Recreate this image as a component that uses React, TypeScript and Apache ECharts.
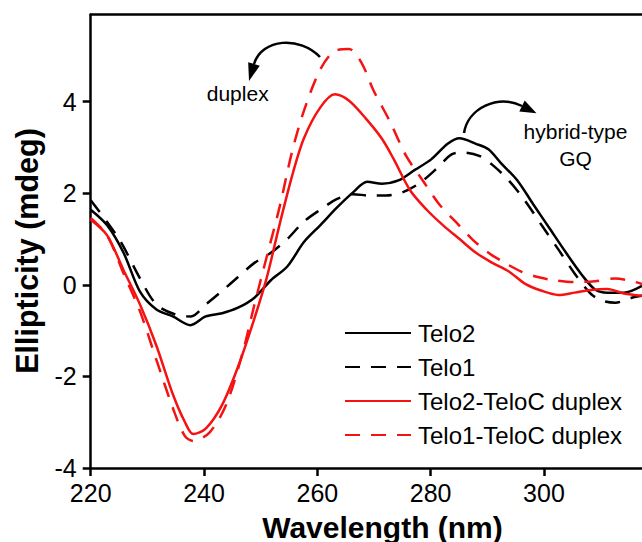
import React, { useEffect, useRef } from "react";
import * as echarts from "echarts";

const FONT = '"Liberation Sans", Arial, sans-serif';

const xTicks = [220, 240, 260, 280, 300];
const yTicks = [-4, -2, 0, 2, 4];
const seriesNames = ["Telo2", "Telo1", "Telo2-TeloC duplex", "Telo1-TeloC duplex"];

const telo2Nm = [220, 222.9, 225.8, 228.7, 231.6, 234.5, 237.6, 240.3, 243.2, 246, 248.9, 251.8, 254.7, 257.6, 260.5, 263.4, 266.3, 268.8, 271.4, 274.3, 277.2, 280.1, 283, 285.1, 288, 290.2, 292.4, 295.3, 298.1, 301, 303.9, 306.8, 309, 311.2, 314.1, 317.3];
const telo2Val = [1.64, 1.3, 0.7, -0.15, -0.54, -0.69, -0.88, -0.69, -0.62, -0.5, -0.28, 0.1, 0.4, 0.93, 1.3, 1.68, 2.02, 2.25, 2.21, 2.28, 2.51, 2.74, 3.08, 3.2, 3.08, 2.96, 2.66, 2.28, 1.76, 1.23, 0.7, 0.2, -0.1, -0.17, -0.17, -0.02];

const telo1Nm = [220, 225, 228.7, 231.6, 235.2, 237.7, 240.3, 243.2, 246, 248.9, 251.8, 254.7, 257.6, 260.5, 263.4, 266.3, 269.2, 272.1, 275, 277.9, 280.8, 283.7, 285.8, 288.7, 290.9, 293.8, 296.7, 299.6, 302.5, 305.4, 308.3, 310.4, 312.6, 315.5, 317.3];
const telo1Val = [1.85, 1.0, 0.14, -0.43, -0.66, -0.69, -0.43, -0.13, 0.17, 0.48, 0.7, 1.0, 1.38, 1.64, 1.87, 1.98, 1.95, 1.95, 2.02, 2.21, 2.51, 2.85, 2.89, 2.81, 2.62, 2.28, 1.83, 1.3, 0.78, 0.25, -0.2, -0.35, -0.39, -0.28, -0.24];

const telo2DuplexNm = [220, 222.9, 225.8, 228.7, 231.6, 234.5, 236.6, 238.1, 240.3, 243.2, 246, 248.9, 251.1, 253.3, 255.5, 257.6, 260.5, 263.1, 265.6, 268.5, 271.4, 273.5, 276.4, 279.3, 282.2, 285.1, 288, 290.9, 293.8, 296.7, 299.6, 302.5, 305.4, 308.3, 311.2, 314.1, 317.3];
const telo2DuplexVal = [1.42, 1.08, 0.32, -0.43, -1.33, -2.39, -2.99, -3.26, -3.14, -2.62, -1.79, -0.73, 0.17, 1.3, 2.36, 3.19, 3.87, 4.16, 4.02, 3.64, 3.19, 2.74, 2.06, 1.64, 1.3, 1.0, 0.7, 0.48, 0.29, 0.02, -0.13, -0.22, -0.17, -0.11, -0.09, -0.19, -0.24];

const telo1DuplexNm = [220, 222.9, 225.8, 228.7, 231.6, 234.5, 236.6, 238.1, 241, 243.9, 246.8, 248.9, 251.1, 253.3, 255.5, 257.6, 260.5, 263.1, 265.6, 267.8, 269.9, 272.8, 275.7, 278.6, 281.5, 284.4, 287.3, 290.2, 293.1, 296, 298.9, 301.8, 305.4, 309, 312.6, 315.5, 317.3];
const telo1DuplexVal = [1.46, 1.08, 0.25, -0.58, -1.64, -2.69, -3.3, -3.41, -3.22, -2.62, -1.49, -0.43, 0.63, 1.68, 2.89, 3.79, 4.7, 5.11, 5.15, 4.85, 4.25, 3.57, 2.81, 2.28, 1.76, 1.38, 1.0, 0.7, 0.48, 0.29, 0.17, 0.1, 0.06, 0.08, 0.14, 0.08, 0.02];

const zip = (xs: number[], ys: number[]) => xs.map((x, i) => [x, ys[i]]);

const BLACK = "#000000";
const RED = "#f51212";

export default function App() {
  const ref = useRef<HTMLDivElement | null>(null);

  useEffect(() => {
    if (!ref.current) return;
    const chart = echarts.init(ref.current, undefined, { renderer: "svg" });

    const axisLineStyle = { color: BLACK, width: 2.5 };
    const mkSeries = (name: string, data: number[][], color: string, dashed: boolean) => ({
      name,
      type: "line",
      data,
      symbol: "none",
      smooth: 0.3,
      itemStyle: { color },
      lineStyle: { color, width: 2.5, type: dashed ? [15, 11] : "solid" },
    });

    chart.setOption({
      animation: false,
      grid: { left: 90.7, top: 14.7, right: 0, bottom: 74 },
      xAxis: [
        {
          type: "value",
          min: 220,
          max: 317.3,
          position: "bottom",
          axisLine: { show: true, onZero: false, lineStyle: axisLineStyle },
          axisTick: { show: true, inside: false, length: 8, lineStyle: axisLineStyle, customValues: xTicks },
          axisLabel: { customValues: xTicks, fontSize: 25, color: BLACK, margin: 12, fontFamily: FONT },
          splitLine: { show: false },
        },
        {
          type: "value",
          min: 220,
          max: 317.3,
          position: "top",
          axisLine: { show: true, onZero: false, lineStyle: axisLineStyle },
          axisTick: { show: false },
          axisLabel: { show: false },
          splitLine: { show: false },
        },
      ],
      yAxis: {
        type: "value",
        min: -4,
        max: 5.9,
        axisLine: { show: true, onZero: false, lineStyle: axisLineStyle },
        axisTick: { show: true, inside: false, length: 8, lineStyle: axisLineStyle, customValues: yTicks },
        axisLabel: { customValues: yTicks, fontSize: 25, color: BLACK, margin: 14, fontFamily: FONT },
        splitLine: { show: false },
      },
      legend: {
        orient: "vertical",
        left: 339,
        top: 316,
        padding: 5,
        itemWidth: 66,
        itemHeight: 14,
        itemGap: 10,
        data: seriesNames,
        itemStyle: { opacity: 0 },
        textStyle: { fontSize: 24, color: BLACK, fontFamily: FONT, lineHeight: 24, padding: [0, 0, 0, 2] },
      },
      series: [
        mkSeries(seriesNames[0], zip(telo2Nm, telo2Val), BLACK, false),
        mkSeries(seriesNames[1], zip(telo1Nm, telo1Val), BLACK, true),
        mkSeries(seriesNames[2], zip(telo2DuplexNm, telo2DuplexVal), RED, false),
        mkSeries(seriesNames[3], zip(telo1DuplexNm, telo1DuplexVal), RED, true),
      ],
      graphic: [
        {
          type: "text",
          x: 382.5,
          y: 527,
          style: { text: "Wavelength (nm)", fontSize: 30, fontWeight: "bold", fontFamily: FONT, fill: BLACK, align: "center", verticalAlign: "middle" },
        },
        {
          type: "text",
          x: 26.5,
          y: 251,
          rotation: Math.PI / 2,
          style: { text: "Ellipticity (mdeg)", fontSize: 30.5, fontWeight: "bold", fontFamily: FONT, fill: BLACK, align: "center", verticalAlign: "middle" },
        },
        {
          type: "text",
          x: 237.7,
          y: 93,
          style: { text: "duplex", fontSize: 21, fontFamily: FONT, fill: BLACK, align: "center", verticalAlign: "middle" },
        },
        {
          type: "text",
          x: 575.5,
          y: 131.5,
          style: { text: "hybrid-type", fontSize: 21, fontFamily: FONT, fill: BLACK, align: "center", verticalAlign: "middle" },
        },
        {
          type: "text",
          x: 575.5,
          y: 158,
          style: { text: "GQ", fontSize: 21, fontFamily: FONT, fill: BLACK, align: "center", verticalAlign: "middle" },
        },
        {
          type: "bezierCurve",
          shape: { x1: 320, y1: 57, cpx1: 300, cpy1: 36, cpx2: 262, cpy2: 38, x2: 254, y2: 64 },
          style: { stroke: BLACK, lineWidth: 2.5, fill: null },
        },
        {
          type: "polygon",
          shape: { points: [[249, 81], [259.8, 65.7], [248.2, 62.3]] },
          style: { fill: BLACK },
        },
        {
          type: "bezierCurve",
          shape: { x1: 464, y1: 133, cpx1: 468, cpy1: 108, cpx2: 498, cpy2: 94, x2: 522, y2: 106 },
          style: { stroke: BLACK, lineWidth: 2.5, fill: null },
        },
        {
          type: "polygon",
          shape: { points: [[536.5, 113.3], [519.3, 111.4], [524.7, 100.6]] },
          style: { fill: BLACK },
        },
      ],
    });

    return () => chart.dispose();
  }, []);

  return (
    <div
      ref={ref}
      style={{ position: "absolute", left: 0, top: 0, width: 642, height: 542, background: "#fff" }}
    />
  );
}
